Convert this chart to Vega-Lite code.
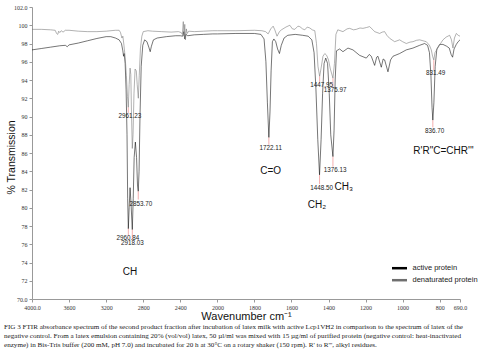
{
  "$schema": "https://vega.github.io/schema/vega-lite/v6.json",
  "width": 428,
  "height": 292,
  "autosize": "none",
  "padding": {"left": 32, "top": 7, "right": 24, "bottom": 52},
  "background": "white",
  "config": {
    "view": {"stroke": null},
    "axis": {
      "domainColor": "#999",
      "tickColor": "#999",
      "tickSize": 3,
      "grid": false,
      "labelFont": "Liberation Serif",
      "labelFontSize": 6,
      "labelColor": "#333",
      "labelOverlap": false,
      "labelFlush": false,
      "labelPadding": 2,
      "titleFont": "Liberation Sans",
      "titleFontWeight": "normal",
      "titleColor": "#111"
    },
    "axisX": {"titleFontSize": 11, "titlePadding": 0},
    "axisY": {"titleFontSize": 10.5, "titleX": -16, "titleY": 150}
  },
  "title": {
    "text": [
      "FIG 3  FTIR absorbance spectrum of the second product fraction after incubation of latex milk with active Lcp1VH2 in comparison to the spectrum of latex of the",
      "negative control. From a latex emulsion containing 20% (vol/vol) latex, 50 µl/ml was mixed with 15 µg/ml of purified protein (negative control: heat-inactivated",
      "enzyme) in Bis-Tris buffer (200 mM, pH 7.0) and incubated for 20 h at 30°C on a rotary shaker (150 rpm). R' to R''', alkyl residues."
    ],
    "orient": "bottom",
    "anchor": "start",
    "frame": "group",
    "dx": -28,
    "offset": 2,
    "font": "Liberation Serif",
    "fontSize": 7.1,
    "fontWeight": "normal",
    "lineHeight": 8.8,
    "color": "#222",
    "baseline": "top"
  },
  "datasets": {
    "spectra": [
      {"wn": 4000, "t": 97.3, "s": "active protein"},
      {"wn": 3900, "t": 97.45, "s": "active protein"},
      {"wn": 3800, "t": 97.6, "s": "active protein"},
      {"wn": 3700, "t": 97.75, "s": "active protein"},
      {"wn": 3640, "t": 97.8, "s": "active protein"},
      {"wn": 3620, "t": 97.65, "s": "active protein"},
      {"wn": 3600, "t": 97.85, "s": "active protein"},
      {"wn": 3500, "t": 98.05, "s": "active protein"},
      {"wn": 3400, "t": 98.3, "s": "active protein"},
      {"wn": 3300, "t": 98.55, "s": "active protein"},
      {"wn": 3200, "t": 98.75, "s": "active protein"},
      {"wn": 3150, "t": 98.75, "s": "active protein"},
      {"wn": 3100, "t": 98.6, "s": "active protein"},
      {"wn": 3060, "t": 98.4, "s": "active protein"},
      {"wn": 3035, "t": 98.0, "s": "active protein"},
      {"wn": 3020, "t": 97.2, "s": "active protein"},
      {"wn": 3012, "t": 96.6, "s": "active protein"},
      {"wn": 3005, "t": 96.9, "s": "active protein"},
      {"wn": 2995, "t": 95.8, "s": "active protein"},
      {"wn": 2985, "t": 93, "s": "active protein"},
      {"wn": 2975, "t": 88, "s": "active protein"},
      {"wn": 2968, "t": 81, "s": "active protein"},
      {"wn": 2960.84, "t": 77.7, "s": "active protein"},
      {"wn": 2952, "t": 80, "s": "active protein"},
      {"wn": 2942, "t": 82.2, "s": "active protein"},
      {"wn": 2932, "t": 80.5, "s": "active protein"},
      {"wn": 2918.03, "t": 77.6, "s": "active protein"},
      {"wn": 2908, "t": 81, "s": "active protein"},
      {"wn": 2898, "t": 85.5, "s": "active protein"},
      {"wn": 2885, "t": 87.2, "s": "active protein"},
      {"wn": 2872, "t": 85.5, "s": "active protein"},
      {"wn": 2862, "t": 82.5, "s": "active protein"},
      {"wn": 2853.7, "t": 81.8, "s": "active protein"},
      {"wn": 2845, "t": 84, "s": "active protein"},
      {"wn": 2835, "t": 90, "s": "active protein"},
      {"wn": 2822, "t": 95.5, "s": "active protein"},
      {"wn": 2805, "t": 97.8, "s": "active protein"},
      {"wn": 2785, "t": 98.4, "s": "active protein"},
      {"wn": 2760, "t": 98.2, "s": "active protein"},
      {"wn": 2740, "t": 97.6, "s": "active protein"},
      {"wn": 2725, "t": 97.1, "s": "active protein"},
      {"wn": 2712, "t": 97.7, "s": "active protein"},
      {"wn": 2690, "t": 98.4, "s": "active protein"},
      {"wn": 2650, "t": 98.6, "s": "active protein"},
      {"wn": 2550, "t": 98.75, "s": "active protein"},
      {"wn": 2450, "t": 98.85, "s": "active protein"},
      {"wn": 2400, "t": 98.85, "s": "active protein"},
      {"wn": 2375, "t": 98.8, "s": "active protein"},
      {"wn": 2362, "t": 99.3, "s": "active protein"},
      {"wn": 2352, "t": 98.5, "s": "active protein"},
      {"wn": 2340, "t": 99.0, "s": "active protein"},
      {"wn": 2320, "t": 98.85, "s": "active protein"},
      {"wn": 2250, "t": 98.95, "s": "active protein"},
      {"wn": 2150, "t": 99.0, "s": "active protein"},
      {"wn": 2050, "t": 99.05, "s": "active protein"},
      {"wn": 2000, "t": 99.05, "s": "active protein"},
      {"wn": 1900, "t": 99.1, "s": "active protein"},
      {"wn": 1800, "t": 99.1, "s": "active protein"},
      {"wn": 1765, "t": 99.0, "s": "active protein"},
      {"wn": 1748, "t": 98.5, "s": "active protein"},
      {"wn": 1738, "t": 96, "s": "active protein"},
      {"wn": 1730, "t": 91.5, "s": "active protein"},
      {"wn": 1722.11, "t": 87.7, "s": "active protein"},
      {"wn": 1716, "t": 90.5, "s": "active protein"},
      {"wn": 1710, "t": 95, "s": "active protein"},
      {"wn": 1703, "t": 98.2, "s": "active protein"},
      {"wn": 1695, "t": 98.5, "s": "active protein"},
      {"wn": 1685, "t": 98.2, "s": "active protein"},
      {"wn": 1675, "t": 97.4, "s": "active protein"},
      {"wn": 1665, "t": 96.9, "s": "active protein"},
      {"wn": 1655, "t": 97.8, "s": "active protein"},
      {"wn": 1640, "t": 98.6, "s": "active protein"},
      {"wn": 1620, "t": 98.9, "s": "active protein"},
      {"wn": 1580, "t": 99.0, "s": "active protein"},
      {"wn": 1540, "t": 98.9, "s": "active protein"},
      {"wn": 1510, "t": 98.8, "s": "active protein"},
      {"wn": 1490, "t": 98.4, "s": "active protein"},
      {"wn": 1478, "t": 97, "s": "active protein"},
      {"wn": 1468, "t": 93, "s": "active protein"},
      {"wn": 1458, "t": 87.5, "s": "active protein"},
      {"wn": 1448.5, "t": 83.6, "s": "active protein"},
      {"wn": 1440, "t": 87.5, "s": "active protein"},
      {"wn": 1432, "t": 92.5, "s": "active protein"},
      {"wn": 1424, "t": 95.8, "s": "active protein"},
      {"wn": 1415, "t": 96.4, "s": "active protein"},
      {"wn": 1405, "t": 95.8, "s": "active protein"},
      {"wn": 1396, "t": 92.5, "s": "active protein"},
      {"wn": 1388, "t": 88, "s": "active protein"},
      {"wn": 1376.13, "t": 85.6, "s": "active protein"},
      {"wn": 1370, "t": 88.5, "s": "active protein"},
      {"wn": 1364, "t": 94, "s": "active protein"},
      {"wn": 1357, "t": 97.2, "s": "active protein"},
      {"wn": 1340, "t": 97.4, "s": "active protein"},
      {"wn": 1322, "t": 97.1, "s": "active protein"},
      {"wn": 1295, "t": 97.5, "s": "active protein"},
      {"wn": 1268, "t": 97.3, "s": "active protein"},
      {"wn": 1232, "t": 96.7, "s": "active protein"},
      {"wn": 1196, "t": 96.4, "s": "active protein"},
      {"wn": 1180, "t": 96.8, "s": "active protein"},
      {"wn": 1169, "t": 96.6, "s": "active protein"},
      {"wn": 1151, "t": 95.6, "s": "active protein"},
      {"wn": 1140, "t": 96.5, "s": "active protein"},
      {"wn": 1133, "t": 96.6, "s": "active protein"},
      {"wn": 1115, "t": 95.4, "s": "active protein"},
      {"wn": 1105, "t": 96.3, "s": "active protein"},
      {"wn": 1097, "t": 96.2, "s": "active protein"},
      {"wn": 1079, "t": 94.9, "s": "active protein"},
      {"wn": 1065, "t": 96.2, "s": "active protein"},
      {"wn": 1052, "t": 96.6, "s": "active protein"},
      {"wn": 1016, "t": 96.9, "s": "active protein"},
      {"wn": 980, "t": 97.3, "s": "active protein"},
      {"wn": 944, "t": 97.5, "s": "active protein"},
      {"wn": 908, "t": 97.8, "s": "active protein"},
      {"wn": 881, "t": 98.0, "s": "active protein"},
      {"wn": 865, "t": 97.8, "s": "active protein"},
      {"wn": 855, "t": 97.0, "s": "active protein"},
      {"wn": 847, "t": 94.5, "s": "active protein"},
      {"wn": 841, "t": 91, "s": "active protein"},
      {"wn": 836.7, "t": 89.6, "s": "active protein"},
      {"wn": 831, "t": 91.5, "s": "active protein"},
      {"wn": 824, "t": 95.5, "s": "active protein"},
      {"wn": 815, "t": 97.4, "s": "active protein"},
      {"wn": 800, "t": 97.9, "s": "active protein"},
      {"wn": 782, "t": 97.9, "s": "active protein"},
      {"wn": 762, "t": 97.7, "s": "active protein"},
      {"wn": 748, "t": 97.5, "s": "active protein"},
      {"wn": 738, "t": 96.8, "s": "active protein"},
      {"wn": 730, "t": 96.5, "s": "active protein"},
      {"wn": 722, "t": 97.4, "s": "active protein"},
      {"wn": 710, "t": 97.9, "s": "active protein"},
      {"wn": 700, "t": 98.2, "s": "active protein"},
      {"wn": 690, "t": 98.4, "s": "active protein"},
      {"wn": 4000, "t": 99.55, "s": "denaturated protein"},
      {"wn": 3900, "t": 99.55, "s": "denaturated protein"},
      {"wn": 3800, "t": 99.5, "s": "denaturated protein"},
      {"wn": 3750, "t": 99.45, "s": "denaturated protein"},
      {"wn": 3735, "t": 99.1, "s": "denaturated protein"},
      {"wn": 3722, "t": 99.0, "s": "denaturated protein"},
      {"wn": 3712, "t": 99.35, "s": "denaturated protein"},
      {"wn": 3700, "t": 99.2, "s": "denaturated protein"},
      {"wn": 3685, "t": 99.4, "s": "denaturated protein"},
      {"wn": 3665, "t": 99.25, "s": "denaturated protein"},
      {"wn": 3640, "t": 99.45, "s": "denaturated protein"},
      {"wn": 3600, "t": 99.45, "s": "denaturated protein"},
      {"wn": 3500, "t": 99.35, "s": "denaturated protein"},
      {"wn": 3400, "t": 99.3, "s": "denaturated protein"},
      {"wn": 3300, "t": 99.3, "s": "denaturated protein"},
      {"wn": 3200, "t": 99.35, "s": "denaturated protein"},
      {"wn": 3100, "t": 99.45, "s": "denaturated protein"},
      {"wn": 3060, "t": 99.45, "s": "denaturated protein"},
      {"wn": 3045, "t": 99.2, "s": "denaturated protein"},
      {"wn": 3030, "t": 98.6, "s": "denaturated protein"},
      {"wn": 3020, "t": 98.8, "s": "denaturated protein"},
      {"wn": 3008, "t": 97.8, "s": "denaturated protein"},
      {"wn": 2995, "t": 96.5, "s": "denaturated protein"},
      {"wn": 2982, "t": 94.5, "s": "denaturated protein"},
      {"wn": 2970, "t": 92.2, "s": "denaturated protein"},
      {"wn": 2961.23, "t": 91.0, "s": "denaturated protein"},
      {"wn": 2952, "t": 93.5, "s": "denaturated protein"},
      {"wn": 2942, "t": 95.3, "s": "denaturated protein"},
      {"wn": 2934, "t": 94.6, "s": "denaturated protein"},
      {"wn": 2927, "t": 90.5, "s": "denaturated protein"},
      {"wn": 2918, "t": 86.5, "s": "denaturated protein"},
      {"wn": 2910, "t": 88, "s": "denaturated protein"},
      {"wn": 2900, "t": 92.5, "s": "denaturated protein"},
      {"wn": 2888, "t": 95.2, "s": "denaturated protein"},
      {"wn": 2875, "t": 95.0, "s": "denaturated protein"},
      {"wn": 2865, "t": 93.5, "s": "denaturated protein"},
      {"wn": 2853, "t": 92.0, "s": "denaturated protein"},
      {"wn": 2843, "t": 94.5, "s": "denaturated protein"},
      {"wn": 2830, "t": 97.5, "s": "denaturated protein"},
      {"wn": 2815, "t": 98.8, "s": "denaturated protein"},
      {"wn": 2800, "t": 99.3, "s": "denaturated protein"},
      {"wn": 2750, "t": 99.4, "s": "denaturated protein"},
      {"wn": 2700, "t": 99.35, "s": "denaturated protein"},
      {"wn": 2600, "t": 99.3, "s": "denaturated protein"},
      {"wn": 2500, "t": 99.25, "s": "denaturated protein"},
      {"wn": 2420, "t": 99.3, "s": "denaturated protein"},
      {"wn": 2390, "t": 99.2, "s": "denaturated protein"},
      {"wn": 2378, "t": 99.0, "s": "denaturated protein"},
      {"wn": 2368, "t": 100.4, "s": "denaturated protein"},
      {"wn": 2360, "t": 98.8, "s": "denaturated protein"},
      {"wn": 2352, "t": 100.1, "s": "denaturated protein"},
      {"wn": 2345, "t": 98.4, "s": "denaturated protein"},
      {"wn": 2335, "t": 99.6, "s": "denaturated protein"},
      {"wn": 2325, "t": 99.1, "s": "denaturated protein"},
      {"wn": 2310, "t": 99.35, "s": "denaturated protein"},
      {"wn": 2250, "t": 99.3, "s": "denaturated protein"},
      {"wn": 2150, "t": 99.35, "s": "denaturated protein"},
      {"wn": 2050, "t": 99.4, "s": "denaturated protein"},
      {"wn": 2000, "t": 99.4, "s": "denaturated protein"},
      {"wn": 1900, "t": 99.4, "s": "denaturated protein"},
      {"wn": 1800, "t": 99.45, "s": "denaturated protein"},
      {"wn": 1760, "t": 99.4, "s": "denaturated protein"},
      {"wn": 1740, "t": 99.3, "s": "denaturated protein"},
      {"wn": 1726, "t": 99.05, "s": "denaturated protein"},
      {"wn": 1712, "t": 99.6, "s": "denaturated protein"},
      {"wn": 1699, "t": 99.9, "s": "denaturated protein"},
      {"wn": 1690, "t": 99.5, "s": "denaturated protein"},
      {"wn": 1678, "t": 98.8, "s": "denaturated protein"},
      {"wn": 1665, "t": 99.3, "s": "denaturated protein"},
      {"wn": 1654, "t": 99.5, "s": "denaturated protein"},
      {"wn": 1630, "t": 99.8, "s": "denaturated protein"},
      {"wn": 1609, "t": 100.0, "s": "denaturated protein"},
      {"wn": 1595, "t": 99.6, "s": "denaturated protein"},
      {"wn": 1582, "t": 99.55, "s": "denaturated protein"},
      {"wn": 1565, "t": 99.9, "s": "denaturated protein"},
      {"wn": 1555, "t": 99.85, "s": "denaturated protein"},
      {"wn": 1540, "t": 99.6, "s": "denaturated protein"},
      {"wn": 1528, "t": 99.5, "s": "denaturated protein"},
      {"wn": 1515, "t": 99.8, "s": "denaturated protein"},
      {"wn": 1501, "t": 99.7, "s": "denaturated protein"},
      {"wn": 1488, "t": 99.5, "s": "denaturated protein"},
      {"wn": 1474, "t": 99.4, "s": "denaturated protein"},
      {"wn": 1465, "t": 98, "s": "denaturated protein"},
      {"wn": 1457, "t": 95.5, "s": "denaturated protein"},
      {"wn": 1447.95, "t": 94.4, "s": "denaturated protein"},
      {"wn": 1440, "t": 95.3, "s": "denaturated protein"},
      {"wn": 1430, "t": 96.6, "s": "denaturated protein"},
      {"wn": 1420, "t": 96.9, "s": "denaturated protein"},
      {"wn": 1410, "t": 96.7, "s": "denaturated protein"},
      {"wn": 1400, "t": 96.2, "s": "denaturated protein"},
      {"wn": 1390, "t": 95.2, "s": "denaturated protein"},
      {"wn": 1375.97, "t": 94.2, "s": "denaturated protein"},
      {"wn": 1368, "t": 95.8, "s": "denaturated protein"},
      {"wn": 1360, "t": 99.0, "s": "denaturated protein"},
      {"wn": 1350, "t": 99.5, "s": "denaturated protein"},
      {"wn": 1322, "t": 99.3, "s": "denaturated protein"},
      {"wn": 1300, "t": 99.6, "s": "denaturated protein"},
      {"wn": 1286, "t": 99.66, "s": "denaturated protein"},
      {"wn": 1265, "t": 99.5, "s": "denaturated protein"},
      {"wn": 1250, "t": 99.55, "s": "denaturated protein"},
      {"wn": 1230, "t": 99.7, "s": "denaturated protein"},
      {"wn": 1214, "t": 99.66, "s": "denaturated protein"},
      {"wn": 1195, "t": 99.75, "s": "denaturated protein"},
      {"wn": 1178, "t": 99.85, "s": "denaturated protein"},
      {"wn": 1160, "t": 99.5, "s": "denaturated protein"},
      {"wn": 1151, "t": 99.3, "s": "denaturated protein"},
      {"wn": 1124, "t": 99.1, "s": "denaturated protein"},
      {"wn": 1110, "t": 99.25, "s": "denaturated protein"},
      {"wn": 1097, "t": 99.3, "s": "denaturated protein"},
      {"wn": 1085, "t": 98.9, "s": "denaturated protein"},
      {"wn": 1070, "t": 98.57, "s": "denaturated protein"},
      {"wn": 1043, "t": 98.2, "s": "denaturated protein"},
      {"wn": 1016, "t": 98.4, "s": "denaturated protein"},
      {"wn": 1000, "t": 98.2, "s": "denaturated protein"},
      {"wn": 980, "t": 98.0, "s": "denaturated protein"},
      {"wn": 960, "t": 98.15, "s": "denaturated protein"},
      {"wn": 944, "t": 98.2, "s": "denaturated protein"},
      {"wn": 925, "t": 98.35, "s": "denaturated protein"},
      {"wn": 908, "t": 98.4, "s": "denaturated protein"},
      {"wn": 890, "t": 98.3, "s": "denaturated protein"},
      {"wn": 872, "t": 98.2, "s": "denaturated protein"},
      {"wn": 855, "t": 97.8, "s": "denaturated protein"},
      {"wn": 845, "t": 97.3, "s": "denaturated protein"},
      {"wn": 838, "t": 96.6, "s": "denaturated protein"},
      {"wn": 831.49, "t": 96.2, "s": "denaturated protein"},
      {"wn": 825, "t": 97.0, "s": "denaturated protein"},
      {"wn": 810, "t": 97.5, "s": "denaturated protein"},
      {"wn": 795, "t": 98.0, "s": "denaturated protein"},
      {"wn": 782, "t": 98.4, "s": "denaturated protein"},
      {"wn": 765, "t": 98.7, "s": "denaturated protein"},
      {"wn": 746, "t": 98.9, "s": "denaturated protein"},
      {"wn": 736, "t": 98.4, "s": "denaturated protein"},
      {"wn": 728, "t": 97.5, "s": "denaturated protein"},
      {"wn": 720, "t": 98.6, "s": "denaturated protein"},
      {"wn": 710, "t": 99.1, "s": "denaturated protein"},
      {"wn": 700, "t": 98.9, "s": "denaturated protein"},
      {"wn": 690, "t": 98.8, "s": "denaturated protein"}
    ],
    "peaks": [
      {"label": "2961.23", "peak": 2961.23, "top": 91.0, "bottom": 90.4, "lx": 2943, "ly": 90.05},
      {"label": "2853.70", "peak": 2853.7, "top": 81.8, "bottom": 80.9, "lx": 2825, "ly": 80.4},
      {"label": "2960.84", "peak": 2960.84, "top": 77.7, "bottom": 77.0, "lx": 2965, "ly": 76.7},
      {"label": "2918.03", "peak": 2918.03, "top": 77.6, "bottom": 76.5, "lx": 2916, "ly": 76.1},
      {"label": "1722.11", "peak": 1722.11, "top": 87.7, "bottom": 86.9, "lx": 1712, "ly": 86.6},
      {"label": "1447.95", "peak": 1447.95, "top": 94.4, "bottom": 93.75, "lx": 1437, "ly": 93.45},
      {"label": "1375.97", "peak": 1375.97, "top": 94.2, "bottom": 93.2, "lx": 1364, "ly": 92.9},
      {"label": "1376.13", "peak": 1376.13, "top": 85.6, "bottom": 84.5, "lx": 1364, "ly": 84.1},
      {"label": "1448.50", "peak": 1448.5, "top": 83.6, "bottom": 82.6, "lx": 1437, "ly": 82.2},
      {"label": "831.49", "peak": 831.49, "top": 96.2, "bottom": 95.1, "lx": 822, "ly": 94.8},
      {"label": "836.70", "peak": 836.7, "top": 89.6, "bottom": 88.8, "lx": 827, "ly": 88.45}
    ],
    "groups": [
      {"text": "CH", "lx": 2943, "ly": 72.96},
      {"text": "C=O", "lx": 1712, "ly": 84.06},
      {"text": "CH₂", "lx": 1463, "ly": 80.3},
      {"text": "CH₃", "lx": 1318, "ly": 82.3},
      {"text": "R'R\"C=CHR'''", "lx": 779, "ly": 86.25}
    ]
  },
  "layer": [
    {
      "data": {"name": "spectra"},
      "mark": {"type": "line", "strokeWidth": 0.9, "opacity": 0.6},
      "encoding": {
        "x": {
          "field": "wn",
          "type": "quantitative",
          "title": "Wavenumber cm⁻¹",
          "scale": {"domain": [4000, 2000, 690], "range": [0, 185.4, 428], "nice": false, "zero": false},
          "axis": {
            "values": [4000, 3600, 3200, 2800, 2400, 2000, 1800, 1600, 1400, 1200, 1000, 800, 690],
            "format": "d",
            "labelExpr": "datum.value == 4000 ? '4000.0' : datum.value == 690 ? '690.0' : datum.label",
            "labelFlush": false,
            "labelOverlap": false
          }
        },
        "y": {
          "field": "t",
          "type": "quantitative",
          "title": "% Transmission",
          "scale": {"domain": [70, 102], "nice": false, "zero": false},
          "axis": {
            "values": [70, 72, 74, 76, 78, 80, 82, 84, 86, 88, 90, 92, 94, 96, 98, 100, 102],
            "format": "d",
            "labelExpr": "datum.value == 102 ? '102.0' : datum.value == 70 ? '70.0' : datum.label",
            "labelFlush": false,
            "labelOverlap": false
          }
        },
        "color": {
          "field": "s",
          "type": "nominal",
          "scale": {"domain": ["active protein", "denaturated protein"], "range": ["#000000", "#6f6f6f"]},
          "legend": {
            "title": null,
            "orient": "none",
            "legendX": 361,
            "legendY": 254.7,
            "symbolType": "M-1.5,0H1.5",
            "symbolSize": 100,
            "symbolStrokeWidth": 2.5,
            "symbolOpacity": 1,
            "labelFont": "Liberation Sans",
            "labelFontSize": 7.5,
            "labelColor": "#222",
            "labelOffset": 6.5,
            "rowPadding": 0,
            "padding": 0
          }
        }
      }
    },
    {
      "data": {"name": "peaks"},
      "mark": {"type": "rule", "color": "#f19a9a", "strokeWidth": 0.8},
      "encoding": {
        "x": {
          "field": "peak", "type": "quantitative", "title": "Wavenumber cm⁻¹",
          "axis": {
            "values": [4000, 3600, 3200, 2800, 2400, 2000, 1800, 1600, 1400, 1200, 1000, 800, 690],
            "format": "d",
            "labelExpr": "datum.value == 4000 ? '4000.0' : datum.value == 690 ? '690.0' : datum.label",
            "labelFlush": false,
            "labelOverlap": false
          }
        },
        "y": {
          "field": "top", "type": "quantitative", "title": "% Transmission",
          "axis": {
            "values": [70, 72, 74, 76, 78, 80, 82, 84, 86, 88, 90, 92, 94, 96, 98, 100, 102],
            "format": "d",
            "labelExpr": "datum.value == 102 ? '102.0' : datum.value == 70 ? '70.0' : datum.label",
            "labelFlush": false,
            "labelOverlap": false
          }
        },
        "y2": {"field": "bottom"}
      }
    },
    {
      "data": {"name": "peaks"},
      "mark": {"type": "text", "font": "Liberation Sans", "fontSize": 6.3, "color": "#222", "baseline": "middle", "align": "center"},
      "encoding": {
        "x": {
          "field": "lx", "type": "quantitative", "title": "Wavenumber cm⁻¹",
          "axis": {
            "values": [4000, 3600, 3200, 2800, 2400, 2000, 1800, 1600, 1400, 1200, 1000, 800, 690],
            "format": "d",
            "labelExpr": "datum.value == 4000 ? '4000.0' : datum.value == 690 ? '690.0' : datum.label",
            "labelFlush": false,
            "labelOverlap": false
          }
        },
        "y": {
          "field": "ly", "type": "quantitative", "title": "% Transmission",
          "axis": {
            "values": [70, 72, 74, 76, 78, 80, 82, 84, 86, 88, 90, 92, 94, 96, 98, 100, 102],
            "format": "d",
            "labelExpr": "datum.value == 102 ? '102.0' : datum.value == 70 ? '70.0' : datum.label",
            "labelFlush": false,
            "labelOverlap": false
          }
        },
        "text": {"field": "label", "type": "nominal"}
      }
    },
    {
      "data": {"name": "groups"},
      "mark": {"type": "text", "font": "Liberation Sans", "fontSize": 10, "color": "#111", "baseline": "middle", "align": "center"},
      "encoding": {
        "x": {
          "field": "lx", "type": "quantitative", "title": "Wavenumber cm⁻¹",
          "axis": {
            "values": [4000, 3600, 3200, 2800, 2400, 2000, 1800, 1600, 1400, 1200, 1000, 800, 690],
            "format": "d",
            "labelExpr": "datum.value == 4000 ? '4000.0' : datum.value == 690 ? '690.0' : datum.label",
            "labelFlush": false,
            "labelOverlap": false
          }
        },
        "y": {
          "field": "ly", "type": "quantitative", "title": "% Transmission",
          "axis": {
            "values": [70, 72, 74, 76, 78, 80, 82, 84, 86, 88, 90, 92, 94, 96, 98, 100, 102],
            "format": "d",
            "labelExpr": "datum.value == 102 ? '102.0' : datum.value == 70 ? '70.0' : datum.label",
            "labelFlush": false,
            "labelOverlap": false
          }
        },
        "text": {"field": "text", "type": "nominal"}
      }
    }
  ]
}
